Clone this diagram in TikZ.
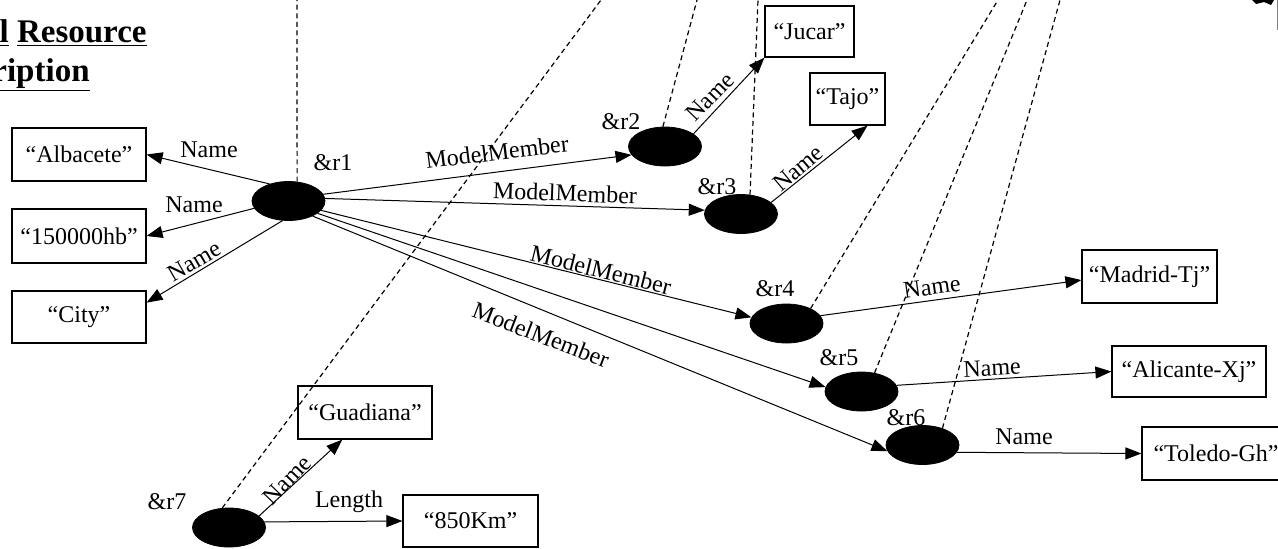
\documentclass[tikz,border=0pt]{standalone}
\usepackage{fontspec}
\setmainfont{Liberation Serif}
\usetikzlibrary{shapes.geometric,arrows.meta}
\newcommand\lblfont{\fontsize{12}{14}\selectfont}
\newcommand\ttlfont{\fontsize{16.5}{19}\selectfont\bfseries}
\tikzset{
  box/.style={draw, line width=0.6pt, inner sep=0pt, font=\lblfont},
  res/.style={ellipse, fill=black, draw=black, minimum width=36.5pt, minimum height=19.5pt, inner sep=0pt},
  lbl/.style={font=\lblfont, inner sep=1pt},
  link/.style={line width=0.5pt, -{Triangle[length=8pt,width=6pt]}},
  dashlink/.style={line width=0.6pt, dash pattern=on 2.5pt off 1.8pt},
}
\begin{document}
\begin{tikzpicture}[x=0.5pt,y=-0.5pt]
\useasboundingbox (0,0) rectangle (1278,548);
\fill[white] (0,0) rectangle (1278,548);
\clip (0,0) rectangle (1278,548);

% title (cut off at the left)
\node[anchor=base east, font=\ttlfont, inner sep=0pt] (ttl1) at (147,42) {\underline{Model}\ \underline{Resource}};
\node[anchor=base east, font=\ttlfont, inner sep=0pt] (ttl2) at (90,81) {\underline{Description}};

% literal boxes
\node[box, minimum width=67pt, minimum height=26.5pt] (alb) at (79,154.5) {“Albacete”};
\node[box, minimum width=67pt, minimum height=27pt] (hb) at (79,236) {“150000hb”};
\node[box, minimum width=67pt, minimum height=26pt] (city) at (79,317) {“City”};
\node[box, minimum width=44.5pt, minimum height=25.5pt] (jucar) at (809.5,31.5) {“Jucar”};
\node[box, minimum width=37.5pt, minimum height=26pt] (tajo) at (847.5,99) {“Tajo”};
\node[box, minimum width=67.5pt, minimum height=26.5pt] (madrid) at (1149.5,276.5) {“Madrid-Tj”};
\node[box, minimum width=77pt, minimum height=25.5pt] (ali) at (1189,371.5) {“Alicante-Xj”};
\node[box, minimum width=74pt, minimum height=26.5pt] (tol) at (1216,453.5) {“Toledo-Gh”};
\node[box, minimum width=67pt, minimum height=26.5pt] (gua) at (365,412.5) {“Guadiana”};
\node[box, minimum width=67.5pt, minimum height=26pt] (km) at (470.5,521) {“850Km”};

% resources
\node[res] (r1) at (288.5,201) {};
\node[res] (r2) at (665,146.5) {};
\node[res] (r3) at (741,214) {};
\node[res] (r4) at (786.5,323.5) {};
\node[res] (r5) at (861.5,391.5) {};
\node[res] (r6) at (922.5,445) {};
\node[res] (r7) at (229,527.5) {};

% resource labels
\node[lbl] (l1) at (333,163) {\&r1};
\node[lbl] (l2) at (621,122) {\&r2};
\node[lbl] (l3) at (717,187) {\&r3};
\node[lbl] (l4) at (775,289) {\&r4};
\node[lbl] (l5) at (839,358) {\&r5};
\node[lbl] (l6) at (906,418) {\&r6};
\node[lbl] (l7) at (167,502) {\&r7};

% dashed links to the upper layer
\coordinate (u1) at (297,0);
\coordinate (u2) at (601,0);
\coordinate (u3) at (697,0);
\coordinate (u4) at (758,0);
\coordinate (u5) at (998,0);
\coordinate (u6) at (1027,0);
\coordinate (u7) at (1060,0);
\draw[dashlink] (r1.66) -- (u1);
\draw[dashlink] (r7.109) -- (u2);
\draw[dashlink] (r2.96) -- (u3);
\draw[dashlink] (r3.65) -- (u4);
\draw[dashlink] (r4.32) -- (u5);
\draw[dashlink] (r5.55) -- (u6);
\draw[dashlink] (r6.40) -- (u7);

% edges from r1
\draw[link] (r1.138) -- (alb.east);
\draw[link] (r1.192) -- (hb.east);
\draw[link] (r1.253) -- (city.12.6);
\draw[link] (r1.11) -- (r2.194);
\draw[link] (r1.4) -- (r3.174);
\draw[link] (r1.344) -- (r4.170);
\draw[link] (r1.337) -- (r5.173);
\draw[link] (r1.328) -- (r6.190);

% other edges
\draw[link] (r2.24) -- (jucar.south west);
\draw[link] (r3.21) -- (tajo.-53);
\draw[link] (r4.13) -- (madrid.183);
\draw[link] (r5.10) -- (ali.west);
\draw[link] (r6.-12) -- (tol.west);
\draw[link] (r7.21) -- (gua.230);
\draw[link] (r7.9) -- (km.west);

% edge labels
\node[lbl] (n1) at (209,150) {Name};
\node[lbl] (n2) at (194,205) {Name};
\node[lbl, rotate=30] (n3) at (194,261) {Name};
\node[lbl, rotate=7] (m1) at (497,152) {ModelMember};
\node[lbl, rotate=-2] (m2) at (565,193) {ModelMember};
\node[lbl, rotate=-14] (m3) at (601,270) {ModelMember};
\node[lbl, rotate=-21] (m4) at (541,335) {ModelMember};
\node[lbl, rotate=46] (n4) at (710,97) {Name};
\node[lbl, rotate=40] (n5) at (798,168) {Name};
\node[lbl, rotate=8] (n6) at (932,287) {Name};
\node[lbl, rotate=3] (n7) at (992,368) {Name};
\node[lbl] (n8) at (1024,437) {Name};
\node[lbl, rotate=46] (n9) at (287,480) {Name};
\node[lbl] (len) at (349,502) {Length};

% fragment at the top right corner
\fill (1252,0) -- (1274,0) -- (1271,5) -- (1264,2) -- (1256,4) -- cycle;
\draw[gray, line width=0.5pt] (1277,0) -- (1277,30);
\end{tikzpicture}
\end{document}
